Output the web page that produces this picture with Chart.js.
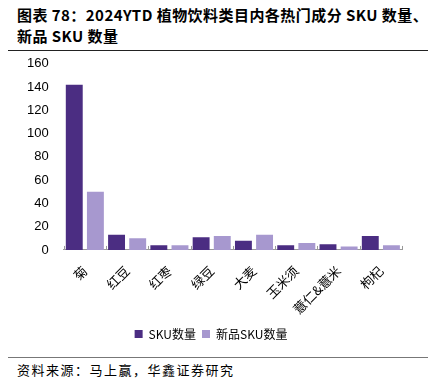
<!DOCTYPE html>
<html>
<head>
<meta charset="utf-8">
<script src="https://cdn.jsdelivr.net/npm/chart.js@4"></script>
<style>
  body { margin: 0; background: #fff; width: 445px; height: 391px; overflow: hidden; position: relative; font-family: "Noto Sans CJK SC", sans-serif; }
  #title { position: absolute; left: 17px; top: 4px; font-size: 15px; font-weight: bold; letter-spacing: 0.45px; line-height: 21px; color: #000; white-space: nowrap; }
  .rule { position: absolute; left: 8px; width: 420px; }
  #rule1 { top: 50px; border-top: 1.5px solid #222; }
  #rule2 { top: 357px; border-top: 1px solid #777; }
  #source { position: absolute; left: 17px; top: 360px; font-size: 13px; letter-spacing: 1.5px; color: #000; }
  #wrap { position: absolute; left: 0; top: 49px; width: 445px; height: 301px; }
</style>
</head>
<body>
<div id="title">图表 78：2024YTD 植物饮料类目内各热门成分 SKU 数量、<br>新品 SKU 数量</div>
<div class="rule" id="rule1"></div>
<div id="wrap"><canvas id="chart"></canvas></div>
<div class="rule" id="rule2"></div>
<div id="source">资料来源：马上赢，华鑫证券研究</div>
<script>
const categories = ['菊', '红豆', '红枣', '绿豆', '大麦', '玉米须', '薏仁&薏米', '枸杞'];
const skuCount = [142, 13, 4, 11, 8, 4, 5, 12];
const newSkuCount = [50, 10, 4, 12, 13, 6, 3, 4];
const yTicks = [0, 20, 40, 60, 80, 100, 120, 140, 160];

// small tick marks between categories, pointing up from the axis
const boundaryTicks = {
  id: 'boundaryTicks',
  afterDraw(chart) {
    const x = chart.scales.x;
    const y0 = chart.scales.y.getPixelForValue(0);
    const ctx = chart.ctx;
    ctx.save();
    ctx.strokeStyle = '#999';
    ctx.lineWidth = 1;
    for (let i = 0; i <= categories.length; i++) {
      const px = Math.round(x.getPixelForValue(i - 0.5)) + 0.5;
      ctx.beginPath();
      ctx.moveTo(px, y0);
      ctx.lineTo(px, y0 - 4);
      ctx.stroke();
    }
    ctx.restore();
  }
};

new Chart(document.getElementById('chart'), {
  type: 'bar',
  data: {
    labels: categories,
    datasets: [
      { label: 'SKU数量', data: skuCount, backgroundColor: '#4b2d82' },
      { label: '新品SKU数量', data: newSkuCount, backgroundColor: '#a798cf' }
    ]
  },
  options: {
    responsive: true,
    maintainAspectRatio: false,
    animation: false,
    layout: { padding: { left: 20, right: 43, top: 0, bottom: 0 } },
    datasets: { bar: { barPercentage: 0.8, categoryPercentage: 1.0 } },
    plugins: {
      legend: {
        position: 'bottom',
        labels: {
          boxWidth: 8, boxHeight: 8, padding: 6,
          color: '#000',
          font: { family: '"Noto Sans CJK SC", sans-serif', size: 12 }
        }
      },
      tooltip: { enabled: false }
    },
    scales: {
      x: {
        grid: { display: false },
        border: { color: '#999' },
        ticks: {
          minRotation: 45, maxRotation: 45,
          color: '#000',
          padding: 5,
          font: { family: '"Noto Sans CJK SC", sans-serif', size: 13 }
        }
      },
      y: {
        min: 0, max: 160,
        afterBuildTicks: axis => { axis.ticks = yTicks.map(v => ({ value: v })); },
        grid: { display: false },
        border: { display: false },
        ticks: {
          color: '#000',
          padding: 7,
          font: { family: '"Liberation Sans", Arial, sans-serif', size: 13 }
        }
      }
    }
  },
  plugins: [boundaryTicks]
});
</script>
</body>
</html>
